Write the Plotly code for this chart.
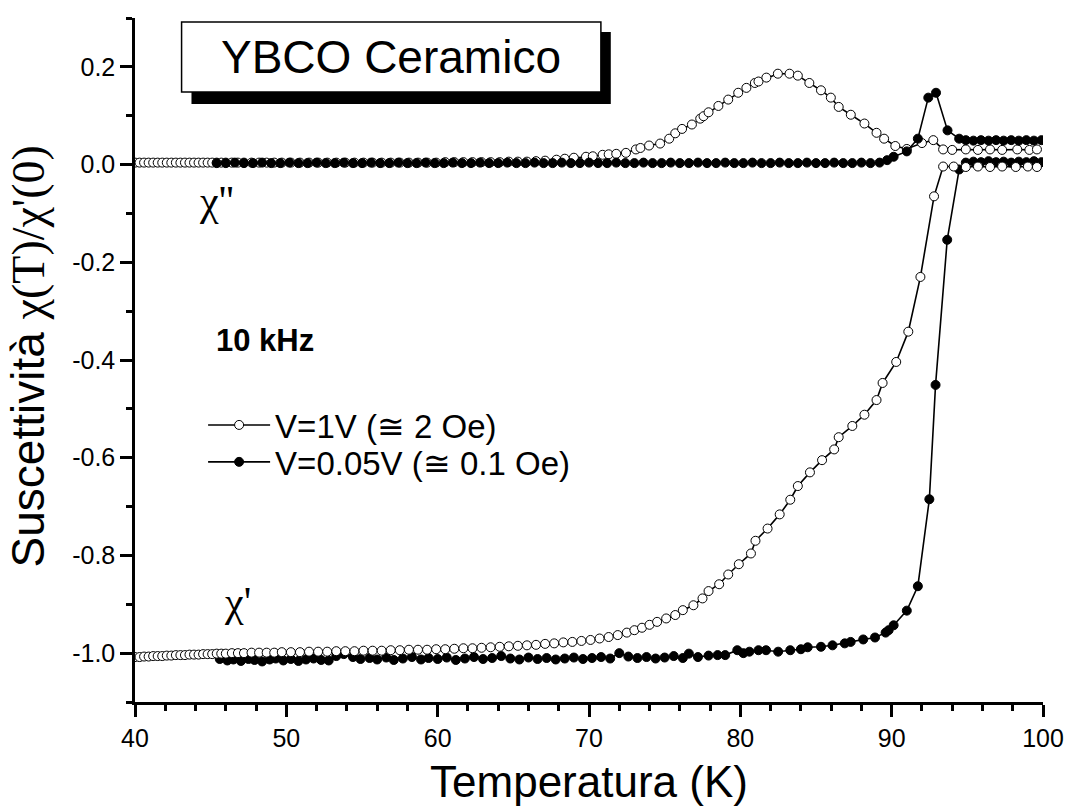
import plotly.graph_objects as go

# ---- V = 1 V (open circles) ----
T_1V_re = [40.0, 40.3, 40.6, 40.9, 41.2, 41.5, 41.8, 42.1, 42.4, 42.7, 43.0, 43.3, 43.6, 43.9,
           44.2, 44.5, 44.8, 45.1, 45.4, 45.7, 46.0, 46.4, 46.8, 47.2, 47.7, 48.2, 48.7, 49.2,
           49.7, 50.3, 50.9, 51.5, 52.1, 52.7, 53.3, 53.9, 54.5, 55.1, 55.7, 56.3, 56.9, 57.5,
           58.1, 58.7, 59.3, 59.9, 60.5, 61.1, 61.7, 62.3, 62.9, 63.5, 64.1, 64.7, 65.3, 65.9,
           66.5, 67.1, 67.7, 68.3, 68.9, 69.5, 70.1, 70.7, 71.3, 71.9, 72.5, 73.0, 73.5, 74.0,
           74.5, 75.1, 75.7, 76.2, 76.9, 77.5, 77.9, 78.6, 79.2, 79.9, 80.7, 81.0, 81.8, 82.6,
           83.3, 83.8, 84.6, 85.4, 86.2, 86.5, 87.4, 88.2, 89.0, 89.4, 90.3, 91.1, 91.9, 92.8,
           93.4, 94.1, 94.9, 95.7, 96.5, 97.3, 98.2, 99.0, 99.6]
chi_re_1V = [-1.008, -1.008, -1.007, -1.007, -1.006, -1.006, -1.006, -1.005, -1.005, -1.004,
             -1.004, -1.004, -1.003, -1.003, -1.003, -1.002, -1.002, -1.002, -1.001, -1.001,
             -1.001, -1.000, -1.000, -1.000, -0.999, -0.999, -0.999, -0.999, -0.998, -0.998,
             -0.998, -0.997, -0.997, -0.997, -0.996, -0.996, -0.996, -0.995, -0.995, -0.995,
             -0.994, -0.994, -0.993, -0.993, -0.993, -0.992, -0.992, -0.991, -0.990, -0.990,
             -0.989, -0.988, -0.987, -0.986, -0.985, -0.984, -0.983, -0.981, -0.980, -0.978,
             -0.977, -0.975, -0.973, -0.970, -0.967, -0.963, -0.958, -0.953, -0.948, -0.942,
             -0.936, -0.929, -0.922, -0.912, -0.902, -0.888, -0.873, -0.859, -0.839, -0.818,
             -0.796, -0.770, -0.745, -0.716, -0.686, -0.658, -0.630, -0.605, -0.583, -0.558,
             -0.535, -0.512, -0.482, -0.447, -0.404, -0.342, -0.230, -0.065, -0.004, -0.004,
             -0.005, -0.004, -0.005, -0.004, -0.005, -0.004, -0.005]

T_1V_im = [40.0, 40.3, 40.6, 40.9, 41.2, 41.5, 41.8, 42.1, 42.4, 42.7, 43.0, 43.3, 43.6, 43.9,
           44.2, 44.5, 44.8, 45.1, 45.4, 45.7, 46.0, 46.4, 46.8, 47.2, 47.7, 48.2, 48.7, 49.2,
           49.7, 50.3, 50.9, 51.5, 52.1, 52.7, 53.3, 53.9, 54.5, 55.1, 55.7, 56.3, 56.9, 57.5,
           58.1, 58.7, 59.3, 59.9, 60.5, 61.1, 61.7, 62.3, 62.9, 63.5, 64.1, 64.7, 65.3, 65.9,
           66.5, 67.1, 67.85, 68.4, 69.0, 69.8, 70.25, 70.9, 71.3, 71.8, 72.44, 73.1, 73.4,
           73.97, 74.7, 75.3, 75.7, 76.15, 76.8, 77.35, 77.57, 77.9, 78.55, 79.2, 79.86, 80.4,
           80.96, 81.2, 81.72, 82.48, 83.25, 83.8, 84.56, 85.33, 85.98, 86.5, 87.3, 88.2, 89.0,
           89.5, 90.24, 91.0, 92.0, 92.75, 93.4, 94.0, 94.9, 95.7, 96.5, 97.3, 98.3, 99.1, 99.6]
chi_im_1V = [0.004, 0.004, 0.004, 0.004, 0.004, 0.004, 0.004, 0.004, 0.004, 0.004, 0.004, 0.004,
             0.004, 0.004, 0.004, 0.004, 0.004, 0.004, 0.004, 0.004, 0.004, 0.004, 0.004, 0.004,
             0.004, 0.004, 0.004, 0.004, 0.004, 0.004, 0.004, 0.004, 0.004, 0.004, 0.004, 0.004,
             0.004, 0.004, 0.004, 0.004, 0.004, 0.004, 0.004, 0.004, 0.004, 0.004, 0.005, 0.005,
             0.005, 0.005, 0.005, 0.005, 0.005, 0.006, 0.006, 0.006, 0.007, 0.008, 0.010, 0.012,
             0.014, 0.016, 0.017, 0.020, 0.021, 0.022, 0.024, 0.031, 0.034, 0.039, 0.043, 0.053,
             0.064, 0.073, 0.082, 0.094, 0.099, 0.107, 0.120, 0.133, 0.147, 0.157, 0.167, 0.170,
             0.178, 0.186, 0.186, 0.182, 0.167, 0.152, 0.137, 0.118, 0.102, 0.084, 0.065, 0.053,
             0.038, 0.032, 0.044, 0.050, 0.031, 0.030, 0.031, 0.030, 0.031, 0.030, 0.031, 0.030,
             0.031]

# ---- V = 0.05 V (filled circles) ----
T_005V_re = [45.6, 46.1, 46.5, 47.0, 47.5, 47.9, 48.4, 48.9, 49.3, 49.8, 50.3, 50.8, 51.3, 51.8,
             52.3, 52.8, 53.3, 53.8, 54.4, 54.9, 55.5, 56.0, 56.6, 57.1, 57.7, 58.3, 58.9, 59.4,
             60.0, 60.6, 61.2, 61.8, 62.4, 63.0, 63.6, 64.2, 64.8, 65.4, 66.0, 66.6, 67.2, 67.8,
             68.4, 69.0, 69.6, 70.2, 70.8, 71.4, 72.0, 72.6, 73.2, 73.8, 74.4, 75.0, 75.6, 76.2,
             76.6, 77.2, 77.9, 78.5, 79.0, 79.8, 80.2, 80.6, 81.2, 81.7, 82.5, 83.3, 84.0, 84.45,
             85.33, 86.09, 86.9, 87.29, 88.12, 88.9, 89.6, 89.8, 90.13, 91.0, 91.73, 92.49, 92.9,
             93.67, 94.46, 94.9, 95.4, 95.9, 96.4, 96.9, 97.4, 97.9, 98.4, 98.9, 99.4, 99.9]
chi_re_005V = [-1.012, -1.015, -1.013, -1.016, -1.012, -1.014, -1.017, -1.013, -1.011, -1.015,
               -1.012, -1.016, -1.013, -1.011, -1.014, -1.015, -1.006, -1.002, -1.008, -1.012,
               -1.010, -1.013, -1.009, -1.014, -1.011, -1.008, -1.013, -1.010, -1.012, -1.009,
               -1.014, -1.011, -1.008, -1.012, -1.010, -1.006, -1.011, -1.013, -1.009, -1.012,
               -1.010, -1.013, -1.011, -1.009, -1.012, -1.010, -1.008, -1.011, -1.000, -1.007,
               -1.010, -1.008, -1.011, -1.009, -1.006, -1.010, -1.001, -1.008, -1.005, -1.004,
               -1.004, -0.994, -1.000, -0.997, -0.994, -0.994, -0.997, -0.994, -0.992, -0.988,
               -0.987, -0.984, -0.980, -0.977, -0.972, -0.968, -0.958, -0.953, -0.943, -0.913,
               -0.863, -0.685, -0.451, -0.154, -0.010, 0.004, 0.006, 0.005, 0.007, 0.005, 0.006,
               0.004, 0.006, 0.005, 0.007, 0.005]

T_005V_im = [45.4, 46.0, 46.6, 47.2, 47.8, 48.4, 49.0, 49.6, 50.2, 50.8, 51.4, 52.0, 52.6, 53.2,
             53.8, 54.4, 55.0, 55.6, 56.2, 56.8, 57.4, 58.0, 58.6, 59.2, 59.8, 60.4, 61.0, 61.6,
             62.2, 62.8, 63.4, 64.0, 64.6, 65.2, 65.8, 66.4, 67.0, 67.6, 68.2, 68.8, 69.4, 70.0,
             70.6, 71.2, 71.8, 72.4, 73.0, 73.6, 74.2, 74.8, 75.4, 76.0, 76.6, 77.2, 77.8, 78.4,
             79.0, 79.6, 80.2, 80.8, 81.4, 82.0, 82.6, 83.2, 83.8, 84.4, 85.0, 85.6, 86.2, 86.8,
             87.4, 88.0, 88.6, 89.2, 89.7, 90.13, 91.0, 91.73, 92.42, 92.93, 93.69, 94.46, 94.9,
             95.4, 95.9, 96.4, 96.9, 97.4, 97.9, 98.4, 98.9, 99.4, 99.9]
chi_im_005V = [0.003, 0.003, 0.004, 0.003, 0.003, 0.004, 0.003, 0.003, 0.004, 0.003, 0.003,
               0.004, 0.003, 0.003, 0.004, 0.003, 0.003, 0.004, 0.003, 0.003, 0.004, 0.003,
               0.003, 0.004, 0.003, 0.003, 0.004, 0.003, 0.003, 0.004, 0.003, 0.003, 0.004,
               0.003, 0.003, 0.004, 0.003, 0.003, 0.004, 0.003, 0.003, 0.004, 0.003, 0.003,
               0.004, 0.003, 0.003, 0.004, 0.003, 0.003, 0.004, 0.003, 0.003, 0.004, 0.003,
               0.003, 0.004, 0.003, 0.003, 0.004, 0.003, 0.003, 0.004, 0.003, 0.003, 0.004,
               0.003, 0.003, 0.004, 0.003, 0.003, 0.004, 0.003, 0.004, 0.009, 0.016, 0.027,
               0.053, 0.137, 0.147, 0.070, 0.053, 0.050, 0.049, 0.050, 0.049, 0.050, 0.049,
               0.050, 0.049, 0.050, 0.049, 0.050]

x_ticks = [40, 50, 60, 70, 80, 90, 100]
y_ticks = [-1.0, -0.8, -0.6, -0.4, -0.2, 0.0, 0.2]
y_tick_text = ["-1.0", "-0.8", "-0.6", "-0.4", "-0.2", "0.0", "0.2"]

legend_1V = "V=1V (≅ 2 Oe)"
legend_005V = "V=0.05V (≅ 0.1 Oe)"

SANS = "Liberation Sans, Arial, sans-serif"
SERIF = "Liberation Serif, Times New Roman, serif"

fig = go.Figure()


def add_series(T, chi, filled, name, show, legend_id):
    fig.add_trace(go.Scatter(
        x=T, y=chi, mode="lines+markers", name=name, legendgroup=name,
        showlegend=show, legend=legend_id,
        line=dict(color="black", width=1.6),
        marker=dict(symbol="circle", size=9,
                    color="black" if filled else "white",
                    line=dict(color="black", width=1)),
    ))


add_series(T_1V_im, chi_im_1V, False, legend_1V, False, "legend")
add_series(T_005V_re, chi_re_005V, True, legend_005V, False, "legend2")
add_series(T_1V_re, chi_re_1V, False, legend_1V, True, "legend")
add_series(T_005V_im, chi_im_005V, True, legend_005V, True, "legend2")

axis_common = dict(
    showline=True, linecolor="black", linewidth=2.5, mirror=False,
    ticks="outside", ticklen=12, tickwidth=2.5, tickcolor="black",
    showgrid=False, zeroline=False,
    tickfont=dict(family=SANS, size=25, color="black"),
)

fig.update_xaxes(
    range=[40, 100], tickvals=x_ticks,
    minor=dict(dtick=2, ticks="outside", ticklen=6, tickwidth=2.5, tickcolor="black"),
    title=dict(text="Temperatura (K)", font=dict(family=SANS, size=44, color="black"),
               standoff=16),
    **axis_common,
)
fig.update_yaxes(
    range=[-1.1, 0.3], tickvals=y_ticks, ticktext=y_tick_text,
    minor=dict(dtick=0.1, tick0=0, ticks="outside", ticklen=6, tickwidth=2.5,
               tickcolor="black"),
    **axis_common,
)

# title box with drop shadow
fig.add_shape(type="rect", xref="paper", yref="paper", x0=0.0622, x1=0.524, y0=0.8743,
              y1=0.9795, fillcolor="black", line=dict(width=0), layer="above")
fig.add_shape(type="rect", xref="paper", yref="paper", x0=0.0513, x1=0.5131, y0=0.8918,
              y1=0.9942, fillcolor="white", line=dict(color="black", width=1.5), layer="above")

fig.add_annotation(text="YBCO Ceramico", xref="paper", yref="paper", x=0.2822, y=0.943,
                   xanchor="center", yanchor="middle", showarrow=False,
                   font=dict(family=SANS, size=46, color="black"))
fig.add_annotation(text="<b>10 kHz</b>", xref="paper", yref="paper", x=0.0873, y=0.529,
                   xanchor="left", yanchor="middle", showarrow=False,
                   font=dict(family=SANS, size=31, color="black"))
fig.add_annotation(text="χ''", x=45.4, y=-0.075, showarrow=False,
                   font=dict(family=SERIF, size=42, color="black"))
fig.add_annotation(text="χ'", x=46.8, y=-0.895, showarrow=False,
                   font=dict(family=SERIF, size=42, color="black"))
fig.add_annotation(
    text="Suscettività <span style='font-family:Liberation Serif, Times New Roman, serif'>χ(T)/χ'(0)</span>",
    xref="paper", yref="paper", x=-0.118, y=0.505, xanchor="center", yanchor="middle",
    textangle=-90, showarrow=False,
    font=dict(family=SANS, size=46, color="black"))

legend_style = dict(xanchor="left", yanchor="middle",
                    font=dict(family=SANS, size=33, color="black"),
                    bgcolor="rgba(0,0,0,0)", itemwidth=62, tracegroupgap=0)

fig.update_layout(
    width=1076, height=812,
    margin=dict(l=135, r=25, t=18, b=110),
    paper_bgcolor="white", plot_bgcolor="white",
    showlegend=True,
    legend=dict(x=0.075, y=0.405, **legend_style),
    legend2=dict(x=0.075, y=0.351, **legend_style),
)

fig.write_html("out.html")
